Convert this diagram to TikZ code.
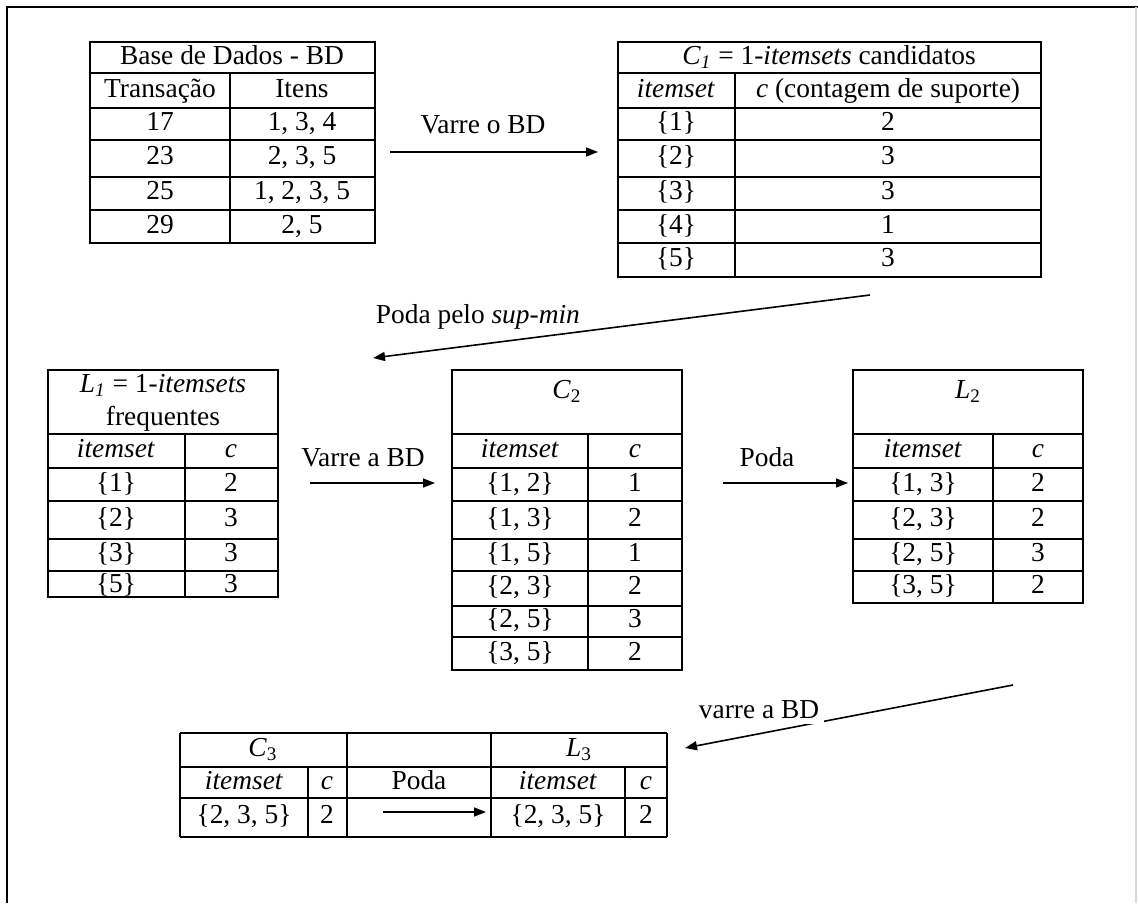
\documentclass[tikz,border=0pt]{standalone}
\usepackage{fontspec}
\setmainfont{Liberation Serif}
\usetikzlibrary{positioning,arrows.meta}

\tikzset{
  cell/.style={inner sep=0pt,text height=0.66em,text depth=0pt},
  lbl/.style={inner sep=2.5pt,text height=0.66em,text depth=0pt},
  flow/.style={line width=0.8pt,-{Triangle[length=6pt,width=4.5pt]}},
}
\newcommand{\setname}[2]{\textit{#1}\textsubscript{#2}}

\begin{document}
\begin{tikzpicture}[x=0.5pt,y=-0.5pt,line width=0.9pt,font=\fontsize{13.7}{16.5}\selectfont]
  \useasboundingbox (0,0) rectangle (1138,903);
  \draw[line width=1.2pt] (7,903) -- (7,7) -- (1138,7);
  \draw[gray!30] (1136,7) -- (1136,903);

  \draw (90,42) rectangle (375,243);
  \foreach \y in {73,108,140,177,210} \draw (90,\y) -- (375,\y);
  \draw (230,73) -- (230,243);
  \node[cell] (bd) at (232,58) {Base de Dados - BD};
  \node[cell] (bdt) at (160,91) {Transação};
  \node[cell] (bdi) at (302,91) {Itens};
  \foreach \y/\t/\i [count=\k] in {124/17/{1, 3, 4},158/23/{2, 3, 5},193/25/{1, 2, 3, 5},227/29/{2, 5}} {
    \node[cell] (bdt\k) at (160,\y) {\t};
    \node[cell] (bdi\k) at (302,\y) {\i};
  }

  \draw (618,42) rectangle (1041,277);
  \foreach \y in {73,108,140,177,210,243} \draw (618,\y) -- (1041,\y);
  \draw (735,73) -- (735,277);
  \node[cell] (c1) at (829,58) {\setname{C}{\textit{1}} = 1-\textit{itemsets} candidatos};
  \node[cell] (c1s) at (676,91) {\textit{itemset}};
  \node[cell] (c1c) at (888,91) {\textit{c} (contagem de suporte)};
  \foreach \y/\s/\n [count=\k] in {124/1/2,158/2/3,193/3/3,227/4/1,260/5/3} {
    \node[cell] (c1s\k) at (676,\y) {\{\s\}};
    \node[cell] (c1c\k) at (888,\y) {\n};
  }

  \draw (48,370) rectangle (278,597);
  \foreach \y in {434,468,501,539,571} \draw (48,\y) -- (278,\y);
  \draw (185,434) -- (185,597);
  \node[inner sep=0pt,align=center] (l1) at (163,403) {\setname{L}{\textit{1}} = 1-\textit{itemsets}\\frequentes};
  \node[cell] (l1s) at (116,451) {\textit{itemset}};
  \node[cell] (l1c) at (231,451) {\textit{c}};
  \foreach \y/\s/\n [count=\k] in {485/1/2,520/2/3,555/3/3,586/5/3} {
    \node[cell] (l1s\k) at (116,\y) {\{\s\}};
    \node[cell] (l1c\k) at (231,\y) {\n};
  }

  \draw (452,370) rectangle (682,670);
  \foreach \y in {434,468,501,539,571,606,637} \draw (452,\y) -- (682,\y);
  \draw (588,434) -- (588,670);
  \node[cell] (c2) at (567,392) {\setname{C}{2}};
  \node[cell] (c2s) at (520,451) {\textit{itemset}};
  \node[cell] (c2c) at (635,451) {\textit{c}};
  \foreach \y/\s/\n [count=\k] in {485/{1, 2}/1,520/{1, 3}/2,555/{1, 5}/1,588/{2, 3}/2,621/{2, 5}/3,654/{3, 5}/2} {
    \node[cell] (c2s\k) at (520,\y) {\{\s\}};
    \node[cell] (c2c\k) at (635,\y) {\n};
  }

  \draw (853,370) rectangle (1083,603);
  \foreach \y in {434,468,501,539,571} \draw (853,\y) -- (1083,\y);
  \draw (993,434) -- (993,603);
  \node[cell] (l2) at (968,392) {\setname{L}{2}};
  \node[cell] (l2s) at (923,451) {\textit{itemset}};
  \node[cell] (l2c) at (1038,451) {\textit{c}};
  \foreach \y/\s/\n [count=\k] in {485/{1, 3}/2,520/{2, 3}/2,555/{2, 5}/3,587/{3, 5}/2} {
    \node[cell] (l2s\k) at (923,\y) {\{\s\}};
    \node[cell] (l2c\k) at (1038,\y) {\n};
  }

  \foreach \y in {733,767,798,837} \draw (180,\y) -- (667,\y);
  \foreach \x in {180,347,491,667} \draw (\x,733) -- (\x,837);
  \foreach \x in {308,625} \draw (\x,767) -- (\x,837);
  \node[cell] (c3) at (263,750) {\setname{C}{3}};
  \node[cell] (c3s) at (244,783) {\textit{itemset}};
  \node[cell] (c3c) at (327,783) {\textit{c}};
  \node[cell] (c3s1) at (244,817) {\{2, 3, 5\}};
  \node[cell] (c3c1) at (327,817) {2};
  \node[cell] (poda3) at (419,783) {Poda};
  \node[cell] (l3) at (579,750) {\setname{L}{3}};
  \node[cell] (l3s) at (558,783) {\textit{itemset}};
  \node[cell] (l3c) at (646,783) {\textit{c}};
  \node[cell] (l3s1) at (558,817) {\{2, 3, 5\}};
  \node[cell] (l3c1) at (646,817) {2};

  \coordinate (v1a) at (390,152);
  \coordinate (v1b) at (598,152);
  \coordinate (pma) at (870,295);
  \coordinate (pmb) at (373,358);
  \coordinate (v2a) at (310,483);
  \coordinate (v2b) at (435,483);
  \coordinate (p2a) at (723,483);
  \coordinate (p2b) at (848,483);
  \coordinate (v3a) at (1013,685);
  \coordinate (v3b) at (685,748);
  \coordinate (p3a) at (383,812);
  \coordinate (p3b) at (486,812);

  \draw[flow] (v1a) -- (v1b);
  \draw[flow] (pma) -- (pmb);
  \draw[flow] (v2a) -- (v2b);
  \draw[flow] (p2a) -- (p2b);
  \draw[flow] (v3a) -- (v3b);
  \draw[flow] (p3a) -- (p3b);

  \node[lbl] (varre1) at (483,127) {Varre o BD};
  \node[lbl,anchor=west] (supmin) at (370,317) {Poda pelo \textit{sup-min}};
  \node[lbl] (varre2) at (363,460) {Varre a BD};
  \node[lbl] (poda2) at (767,460) {Poda};
  \node[lbl,fill=white] (varre3) at (759,712) {varre a BD};
\end{tikzpicture}
\end{document}
